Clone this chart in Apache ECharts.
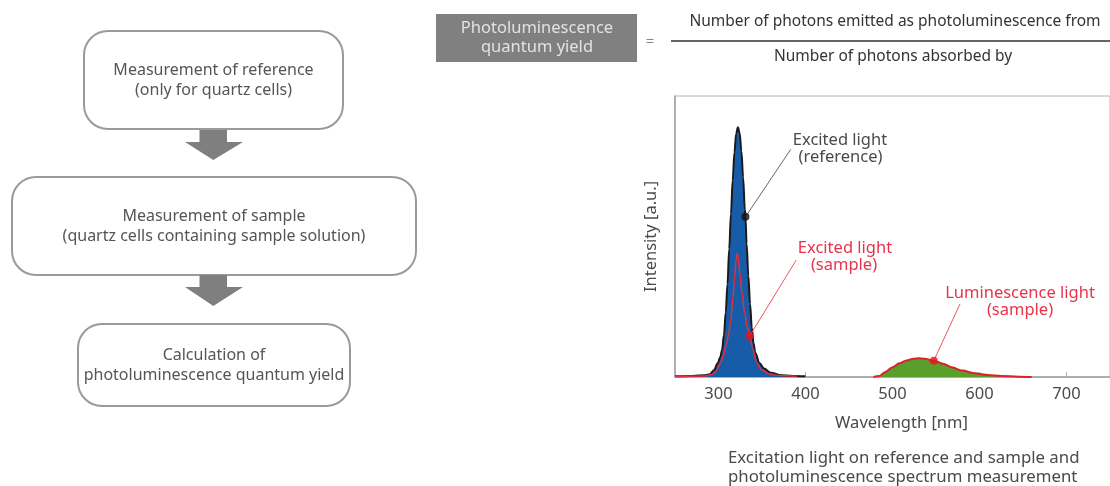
<!DOCTYPE html>
<html>
<head>
<meta charset="utf-8">
<script src="https://cdn.jsdelivr.net/npm/echarts/dist/echarts.min.js"></script>
<style>
html,body{margin:0;padding:0;background:#fff;}
#chart{width:1110px;height:486px;}
</style>
</head>
<body>
<div id="chart"></div>
<script>
// ---- data ----
const refWavelength = [250, 270, 285, 290, 295, 299, 302, 304, 306.3, 308.3, 310.3, 312.3, 314.3, 316.3, 318.3, 320.3, 322.3, 324.3, 326.3, 328.3, 330.3, 331, 332.3, 334.3, 336.3, 338.3, 340.3, 342.3, 347.3, 352.3, 360, 372, 385, 400];
const refIntensity  = [0.3, 0.4, 0.6, 1.0, 2.5, 4.9, 7, 9.5, 15, 23, 33, 45.5, 58, 70, 80, 86.6, 88.9, 86.8, 80.5, 71, 59.5, 57, 47.5, 36, 26, 17.5, 12, 8.5, 4.9, 3, 1.5, 0.6, 0.4, 0.3];

const sampleWavelength = [250, 285, 292, 297, 302, 306, 309, 311.3, 314, 316.5, 318.5, 320.3, 321.5, 322.8, 324.5, 327, 330, 333, 335.8, 339, 344, 350, 358, 370, 390];
const sampleIntensity  = [0.25, 0.35, 0.9, 2.0, 4.6, 8, 11.5, 14.6, 20, 28, 35.5, 42, 44, 42, 37, 30, 23, 18, 14.6, 10.5, 5, 2.5, 1.2, 0.5, 0.25];

const lumWavelength = [478, 485, 492, 500, 508, 516, 524, 530, 537, 547.5, 558, 568, 580, 595, 610, 625, 645, 660];
const lumIntensity  = [0, 0.4, 1.8, 3.5, 4.9, 5.9, 6.5, 6.65, 6.5, 5.8, 4.7, 3.5, 2.3, 1.3, 0.7, 0.35, 0.1, 0];

const xTickValues = [300, 400, 500, 600, 700];

// annotation anchor points on the curves and leader-line ends [wavelength, intensity]
const refDot = [331, 57];
const refLeaderEnd = [383, 81];
const sampleDot = [335.8, 14.6];
const sampleLeaderEnd = [389.3, 41.6];
const lumDot = [547.5, 5.8];
const lumLeaderEnd = [577.6, 26];

const flowSteps = [
  ["Measurement of reference", "(only for quartz cells)"],
  ["Measurement of sample", "(quartz cells containing sample solution)"],
  ["Calculation of", "photoluminescence quantum yield"]
];

// ---- chart ----
const zip = (a, b) => a.map((v, i) => [v, b[i]]);
const FONT = '"Noto Sans", sans-serif';
const GRAY_TXT = '#4a4a4a';
const RED = '#e8334a';

const chart = echarts.init(document.getElementById('chart'), null, {renderer: 'canvas'});

function txt(x, y, text, size, color, align) {
  return {
    type: 'text', x: x, y: y, silent: true,
    style: {
      text: text, fill: color, font: size + 'px ' + FONT,
      textAlign: align || 'center', textVerticalAlign: 'middle',
      align: align || 'center', verticalAlign: 'middle'
    }
  };
}

const boxes = [
  {x: 84, y: 31, w: 259, h: 98},
  {x: 12, y: 177, w: 404, h: 98},
  {x: 78, y: 324, w: 272, h: 82}
];
const graphics = [];
boxes.forEach((b, i) => {
  graphics.push({
    type: 'rect', silent: true,
    shape: {x: b.x, y: b.y, width: b.w, height: b.h, r: 24},
    style: {fill: '#fff', stroke: '#9a9a9a', lineWidth: 2}
  });
  const cx = b.x + b.w / 2, cy = b.y + b.h / 2;
  graphics.push(txt(cx, cy - 10, flowSteps[i][0], 16, '#555'));
  graphics.push(txt(cx, cy + 10, flowSteps[i][1], 16, '#555'));
});
// down arrows
[[130, 160], [275, 306]].forEach(a => {
  graphics.push({
    type: 'polygon', silent: true,
    shape: {points: [[199.5, a[0]], [227, a[0]], [227, a[0] + 12], [243, a[0] + 12], [213.3, a[1]], [185, a[0] + 12], [199.5, a[0] + 12]]},
    style: {fill: '#7f7f7f'}
  });
});
// formula
graphics.push({type: 'rect', silent: true, shape: {x: 436, y: 14, width: 201, height: 48}, style: {fill: '#808080'}});
graphics.push(txt(537, 28, 'Photoluminescence', 16.5, '#e2e2e2'));
graphics.push(txt(537, 47, 'quantum yield', 16.5, '#e2e2e2'));
graphics.push(txt(650, 42, '=', 15, '#888'));
graphics.push({type: 'line', silent: true, shape: {x1: 671, y1: 41, x2: 1110, y2: 41}, style: {stroke: '#333', lineWidth: 1.5}});
graphics.push(txt(895, 22, 'Number of photons emitted as photoluminescence from', 15.5, '#333'));
graphics.push(txt(893, 57, 'Number of photons absorbed by', 15.5, '#333'));
// annotation texts
graphics.push(txt(840, 140, 'Excited light', 16.5, GRAY_TXT));
graphics.push(txt(840.5, 157, '(reference)', 16.5, GRAY_TXT));
graphics.push(txt(845, 248, 'Excited light', 16.5, RED));
graphics.push(txt(844, 265, '(sample)', 16.5, RED));
graphics.push(txt(1020, 293, 'Luminescence light', 16.5, RED));
graphics.push(txt(1020, 310, '(sample)', 16.5, RED));
// axis title & caption
graphics.push(txt(901.5, 423, 'Wavelength [nm]', 16.5, GRAY_TXT));
graphics.push(txt(728, 458, 'Excitation light on reference and sample and', 16.8, GRAY_TXT, 'left'));
graphics.push(txt(728, 477, 'photoluminescence spectrum measurement', 16.8, GRAY_TXT, 'left'));

chart.setOption({
  animation: false,
  backgroundColor: '#fff',
  grid: {left: 675, top: 96, width: 442.5, height: 281, show: true, borderColor: '#b4b4b4', borderWidth: 1, containLabel: false},
  xAxis: {
    type: 'value', min: 250, max: 750,
    axisLine: {show: true, lineStyle: {color: '#a0a0a0', width: 1.5}},
    axisTick: {show: true, inside: true, length: 5, customValues: xTickValues, lineStyle: {color: '#b0b0b0'}},
    axisLabel: {customValues: xTickValues, color: GRAY_TXT, fontSize: 16.5, fontFamily: FONT, margin: 9},
    splitLine: {show: false}
  },
  yAxis: {
    type: 'value', min: 0, max: 100,
    name: 'Intensity [a.u.]', nameLocation: 'middle', nameGap: 15,
    nameTextStyle: {color: GRAY_TXT, fontSize: 16.5, fontFamily: FONT},
    axisLine: {show: true, lineStyle: {color: '#a0a0a0', width: 1.5}},
    axisTick: {show: false}, axisLabel: {show: false}, splitLine: {show: false}
  },
  graphic: graphics,
  series: [
    {
      name: 'Excited light (reference)', type: 'line', data: zip(refWavelength, refIntensity),
      smooth: 0.35, smoothMonotone: 'x', symbol: 'none', z: 2,
      lineStyle: {color: '#1a1a1a', width: 2},
      areaStyle: {color: '#175ca8', opacity: 1}
    },
    {
      name: 'Excited light (sample)', type: 'line', data: zip(sampleWavelength, sampleIntensity),
      smooth: 0.35, smoothMonotone: 'x', symbol: 'none', z: 3,
      lineStyle: {color: '#e62e3a', width: 1.5}
    },
    {
      name: 'Luminescence light (sample)', type: 'line', data: zip(lumWavelength, lumIntensity),
      smooth: 0.35, smoothMonotone: 'x', symbol: 'none', z: 3,
      lineStyle: {color: '#d9232e', width: 2},
      areaStyle: {color: '#5a9e2c', opacity: 1}
    },
    {
      type: 'scatter', data: [refDot], symbolSize: 8, z: 5,
      itemStyle: {color: '#111'},
      markLine: {
        silent: true, symbol: ['none', 'none'],
        lineStyle: {color: '#666', width: 1, type: 'solid'}, label: {show: false},
        data: [[{coord: refDot}, {coord: refLeaderEnd}]]
      }
    },
    {
      type: 'scatter', data: [sampleDot, lumDot], symbolSize: 8, z: 5,
      itemStyle: {color: '#e3141f'},
      markLine: {
        silent: true, symbol: ['none', 'none'],
        lineStyle: {color: '#ee5560', width: 1, type: 'solid'}, label: {show: false},
        data: [[{coord: sampleDot}, {coord: sampleLeaderEnd}], [{coord: lumDot}, {coord: lumLeaderEnd}]]
      }
    }
  ]
});
</script>
</body>
</html>
